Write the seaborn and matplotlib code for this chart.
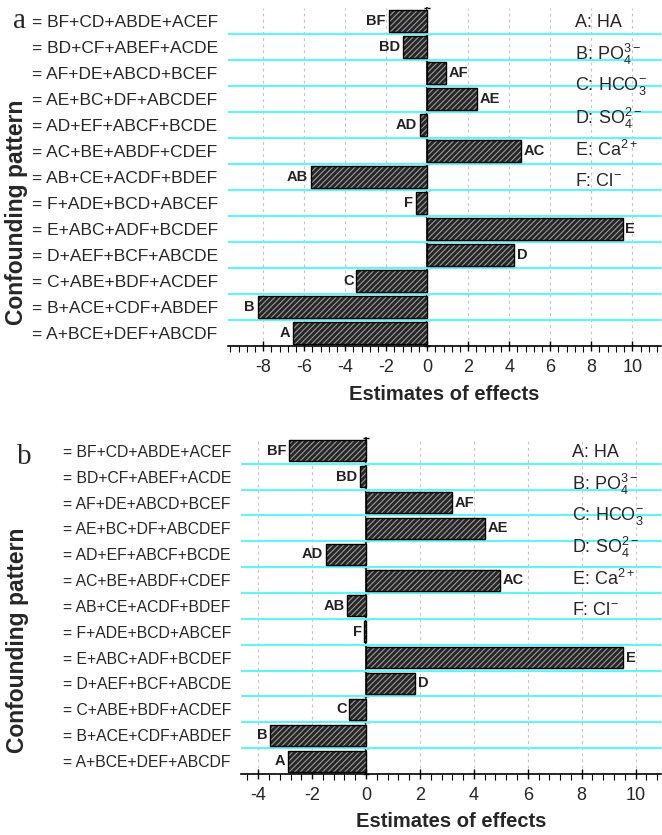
import matplotlib
matplotlib.use("Agg")
import matplotlib.pyplot as plt
from matplotlib.ticker import MultipleLocator
import numpy as np
import seaborn as sns

patterns = ["= BF+CD+ABDE+ACEF", "= BD+CF+ABEF+ACDE", "= AF+DE+ABCD+BCEF",
            "= AE+BC+DF+ABCDEF", "= AD+EF+ABCF+BCDE", "= AC+BE+ABDF+CDEF",
            "= AB+CE+ACDF+BDEF", "= F+ADE+BCD+ABCEF", "= E+ABC+ADF+BCDEF",
            "= D+AEF+BCF+ABCDE", "= C+ABE+BDF+ACDEF", "= B+ACE+CDF+ABDEF",
            "= A+BCE+DEF+ABCDF"]
effects = ["BF", "BD", "AF", "AE", "AD", "AC", "AB", "F", "E", "D", "C", "B", "A"]

values_a = [-1.89, -1.17, 0.92, 2.42, -0.35, 4.57, -5.68, -0.55, 9.53, 4.22, -3.46, -8.28, -6.57]
values_b = [-2.85, -0.22, 3.19, 4.42, -1.48, 4.98, -0.70, -0.06, 9.53, 1.82, -0.62, -3.57, -2.88]

factors = ["A: HA", r"B: PO$_4^{3-}$", r"C: HCO$_3^{-}$", r"D: SO$_4^{2-}$",
           r"E: Ca$^{2+}$", r"F: Cl$^{-}$"]

sns.set_theme(style="white")
plt.rcParams['font.family'] = ['Liberation Sans', 'DejaVu Sans']
plt.rcParams['mathtext.default'] = 'regular'
plt.rcParams['axes.unicode_minus'] = False
plt.rcParams['hatch.linewidth'] = 0.8

cyan = '#66f2f7'


def panel(ax, values, xlim, label_size, label_pad, legend_x):
    sns.barplot(x=values, y=patterns, orient='h', color='#262626', saturation=1,
                width=0.81, hatch='//////', edgecolor='#9a9a9a', linewidth=0, ax=ax)
    sns.barplot(x=values, y=patterns, orient='h', color='black', fill=False,
                width=0.81, linewidth=1, ax=ax)
    ax.bar_label(ax.containers[0], labels=effects, padding=2,
                 fontsize=10.5, fontweight='bold', color='#222222')

    ax.set_xlim(*xlim)
    ax.set_ylim(12.5, -0.5)
    ax.xaxis.set_major_locator(MultipleLocator(2))
    ax.xaxis.set_minor_locator(MultipleLocator(0.4))
    ax.tick_params(axis='x', which='major', direction='inout', length=7, width=1,
                   labelsize=13, pad=6, color='black', bottom=True)
    ax.tick_params(axis='x', which='minor', direction='out', length=4, width=0.8,
                   color='black', bottom=True)
    ax.grid(axis='x', which='major', color='#c4c4c4', linestyle=(0, (2.5, 3)), lw=0.8)

    ax.set_yticks(np.arange(0.5, 12, 1), minor=True)
    ax.grid(axis='y', which='minor', color=cyan, lw=1.6)
    ax.tick_params(axis='y', which='both', length=0)
    ax.tick_params(axis='y', which='major', labelsize=label_size, pad=label_pad)
    for t in ax.get_yticklabels():
        t.set_horizontalalignment('left')
    ax.set_axisbelow(True)

    for s in ['top', 'right', 'left']:
        ax.spines[s].set_visible(False)
    ax.spines['bottom'].set_color('black')
    ax.spines['bottom'].set_linewidth(1.2)

    zero = ax.secondary_yaxis(0, transform=ax.transData)
    zero.set_yticks(np.arange(-0.5, 12.6, 1))
    zero.set_yticklabels([])
    zero.tick_params(direction='inout', length=5, width=1, color='black')
    zero.spines['left'].set_color('black')
    zero.spines['left'].set_linewidth(1.2)

    ax.set_xlabel('Estimates of effects', fontsize=14.5, fontweight='bold', labelpad=6)
    ax.set_ylabel('Confounding pattern', fontsize=16.5, fontweight='bold')

    for i, f in enumerate(factors):
        ax.text(legend_x, 0.956 - i * 0.094, f, transform=ax.transAxes,
                fontsize=13, va='center', ha='left')


fig = plt.figure(figsize=(6.62, 8.35), dpi=100)
ax1 = fig.add_axes([0.3444, 0.5856, 0.6541, 0.4048])
ax2 = fig.add_axes([0.3640, 0.0731, 0.6344, 0.4024])

panel(ax1, values_a, (-9.72, 11.40), 12.5, 141, 0.801)
panel(ax2, values_b, (-4.64, 10.94), 11.3, 128, 0.788)

ax1.yaxis.set_label_coords(-0.462, 0.396)
ax2.yaxis.set_label_coords(-0.505, 0.399)

fig.text(13 / 662, 1 - 28 / 835, 'a', family=['Liberation Serif', 'DejaVu Serif'],
         fontsize=21, va='baseline')
fig.text(17 / 662, 1 - 464 / 835, 'b', family=['Liberation Serif', 'DejaVu Serif'],
         fontsize=21, va='baseline')

fig.savefig('out.png', dpi=100)
plt.close(fig)
